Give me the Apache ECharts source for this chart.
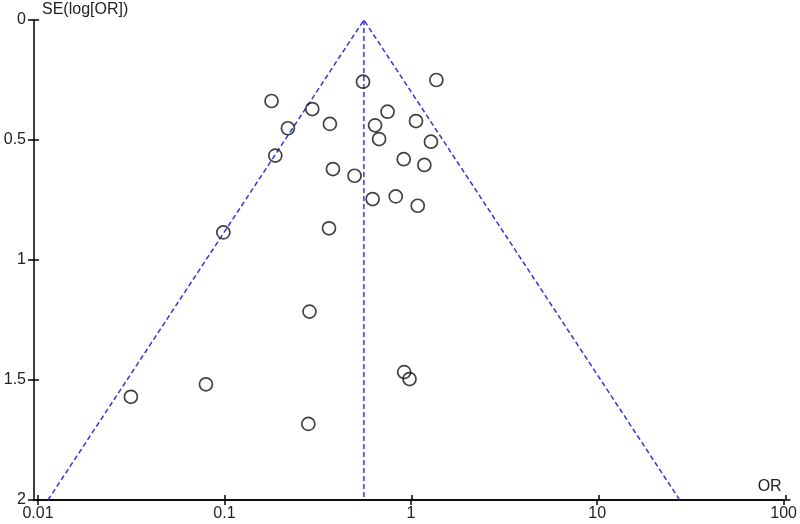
<!DOCTYPE html>
<html>
<head>
<meta charset="utf-8">
<script src="https://cdn.jsdelivr.net/npm/echarts@6/dist/echarts.min.js"></script>
<style>html,body{margin:0;padding:0;background:#fff;}#c{width:800px;height:524px;}</style>
</head>
<body>
<div id="c"></div>
<script>
// Study odds ratios and standard errors of log(OR)
const studyOR = [0.554, 1.371, 0.179, 0.296, 0.750, 0.219, 0.368, 0.643, 1.066, 0.676,
                 1.282, 0.1875, 0.382, 0.916, 1.182, 0.499, 0.624, 0.830, 1.089, 0.0987,
                 0.364, 0.286, 0.921, 0.984, 0.0796, 0.0315, 0.282];
const studySE = [0.257, 0.250, 0.3375, 0.371, 0.382, 0.451, 0.433, 0.439, 0.421, 0.496,
                 0.507, 0.565, 0.621, 0.580, 0.604, 0.649, 0.746, 0.735, 0.774, 0.885,
                 0.868, 1.215, 1.467, 1.496, 1.518, 1.570, 1.683];
// Funnel (pseudo 95% confidence limits) and pooled estimate
const pooledOR = 0.560;
const funnelOR = [0.01131, 0.560, 27.7];
const funnelSE = [2, 0, 2];
const centerSE = [0, 2];
const xTicks = [0.01, 0.1, 1, 10, 100];
const yTicks = [0, 0.5, 1, 1.5, 2];

const points = studyOR.map((v, i) => [v, studySE[i]]);
const funnel = funnelOR.map((v, i) => [v, funnelSE[i]]);
const center = centerSE.map(s => [pooledOR, s]);

const txt = {color: '#222', fontFamily: 'Liberation Sans, Arial, sans-serif', fontSize: 16};
const dashStyle = {color: '#3434dc', width: 1.5, type: [5, 3]};
const gridBox = {left: 38, right: 14, top: 20, bottom: 24, containLabel: false};

const chart = echarts.init(document.getElementById('c'), null, {renderer: 'canvas'});
chart.setOption({
  animation: false,
  backgroundColor: '#fff',
  grid: [Object.assign({}, gridBox), Object.assign({}, gridBox),
         {left: 34, right: 10, top: 20, bottom: 24, containLabel: false}],
  xAxis: [{
    gridIndex: 0,
    type: 'log', logBase: 10, min: xTicks[0], max: xTicks[xTicks.length - 1],
    position: 'bottom',
    axisLine: {onZero: false, lineStyle: {color: '#000', width: 1.5}},
    axisTick: {show: true, length: 5, inside: false, lineStyle: {color: '#000', width: 1.5}},
    minorTick: {show: false},
    splitLine: {show: false},
    axisLabel: Object.assign({margin: 6, formatter: v => String(v)}, txt),
    name: 'OR', nameLocation: 'end', nameGap: -2,
    nameTextStyle: Object.assign({align: 'right', verticalAlign: 'bottom', padding: [0, 0, 5, 0]}, txt)
  }, {
    gridIndex: 1,
    type: 'log', logBase: 10, min: xTicks[0], max: xTicks[xTicks.length - 1],
    position: 'bottom',
    axisLine: {show: false, onZero: false},
    axisTick: {show: true, length: 5, inside: true, lineStyle: {color: '#000', width: 1.5}},
    axisLabel: {show: false}, splitLine: {show: false}
  }, {
    gridIndex: 2,
    type: 'value', min: 0, max: 1, position: 'bottom',
    axisLine: {show: true, onZero: false, lineStyle: {color: '#000', width: 1.5}},
    axisTick: {show: false}, axisLabel: {show: false}, splitLine: {show: false}
  }],
  yAxis: [{
    gridIndex: 0,
    type: 'value', inverse: true, min: yTicks[0], max: yTicks[yTicks.length - 1], interval: 0.5,
    position: 'left', offset: 4,
    axisLine: {show: true, onZero: false, lineStyle: {color: '#000', width: 1.5}},
    axisTick: {show: true, length: 6, inside: false, lineStyle: {color: '#000', width: 1.5}},
    splitLine: {show: false},
    axisLabel: Object.assign({margin: 8, formatter: v => String(v)}, txt),
    name: 'SE(log[OR])', nameLocation: 'start', nameGap: 10,
    nameTextStyle: Object.assign({align: 'left', verticalAlign: 'middle', padding: [0, 0, 0, 8]}, txt)
  }, {
    gridIndex: 1,
    type: 'value', inverse: true, min: yTicks[0], max: yTicks[yTicks.length - 1], interval: 0.5,
    position: 'left', offset: 4,
    axisLine: {show: false, onZero: false},
    axisTick: {show: true, length: 5, inside: true, lineStyle: {color: '#000', width: 1.5}},
    axisLabel: {show: false}, splitLine: {show: false}
  }, {
    gridIndex: 2,
    type: 'value', min: 0, max: 1, show: false
  }],
  series: [{
    type: 'line', data: funnel, xAxisIndex: 0, yAxisIndex: 0,
    symbol: 'none', lineStyle: dashStyle, silent: true, z: 1
  }, {
    type: 'line', data: center, xAxisIndex: 0, yAxisIndex: 0,
    symbol: 'none', lineStyle: dashStyle, silent: true, z: 1
  }, {
    type: 'scatter', data: points, xAxisIndex: 0, yAxisIndex: 0,
    symbol: 'circle', symbolSize: 13,
    itemStyle: {color: 'rgba(0,0,0,0)', borderColor: '#111', borderWidth: 1.7}, z: 3
  }]
});
</script>
</body>
</html>
